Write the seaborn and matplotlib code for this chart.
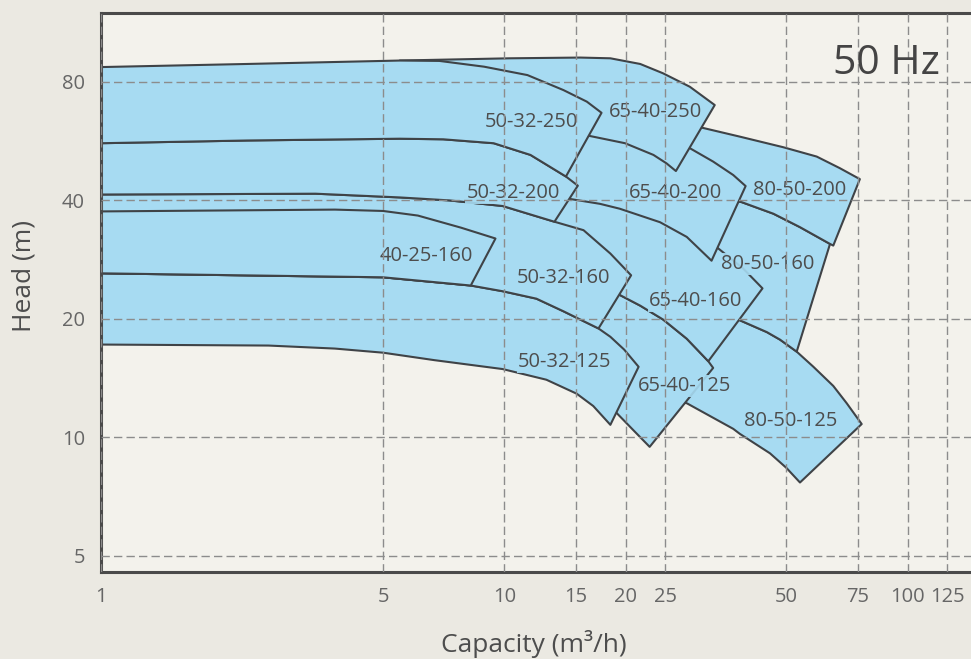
import matplotlib
matplotlib.use('Agg')
import seaborn as sns
import matplotlib.pyplot as plt
from matplotlib.ticker import NullLocator

# pump performance fields, capacity (m3/h) vs head (m)
# each field: top curve and bottom curve, left to right
top_q_50_32_250 = [1, 2.3, 5.5, 6.9, 8.9, 11.4, 14.0, 16.0, 17.4]
top_h_50_32_250 = [87.3, 88.9, 90.7, 90.5, 87.5, 83.3, 76.3, 71.3, 66.8]
bot_q_50_32_250 = [1, 2.3, 5.5, 7.05, 9.4, 11.6, 14.2]
bot_h_50_32_250 = [55.9, 56.8, 57.4, 57.2, 55.9, 52.2, 46.0]

top_q_50_32_200 = [1, 2.3, 5.5, 7.05, 9.4, 11.6, 14.2, 15.2]
top_h_50_32_200 = [55.9, 56.8, 57.4, 57.2, 55.9, 52.2, 46.0, 43.6]
bot_q_50_32_200 = [1, 3.4, 5.5, 7.3, 9.9, 13.3]
bot_h_50_32_200 = [41.4, 41.6, 40.7, 40.0, 38.7, 35.3]

top_q_50_32_160 = [1, 3.4, 5.5, 7.3, 9.9, 13.3, 15.7, 18.3, 20.6]
top_h_50_32_160 = [41.4, 41.6, 40.7, 40.0, 38.7, 35.3, 33.6, 29.3, 25.8]
bot_q_50_32_160 = [1, 3.8, 5.0, 8.25, 9.9, 12.0, 14.0, 17.1]
bot_h_50_32_160 = [26.1, 25.6, 25.5, 24.3, 23.5, 22.5, 20.9, 18.9]

top_q_40_25_160 = [1, 3.8, 5.0, 6.1, 7.8, 9.5]
top_h_40_25_160 = [37.5, 37.9, 37.6, 36.6, 34.1, 32.0]
bot_q_40_25_160 = [1, 3.8, 5.0, 8.25]
bot_h_40_25_160 = [26.1, 25.6, 25.5, 24.3]

top_q_50_32_125 = [1, 3.8, 5.0, 8.25, 9.9, 12.0, 14.0, 17.1, 18.3, 19.8, 21.5]
top_h_50_32_125 = [26.1, 25.6, 25.5, 24.3, 23.5, 22.5, 20.9, 18.9, 18.0, 16.7, 15.1]
bot_q_50_32_125 = [1, 2.6, 3.8, 5.0, 6.7, 9.9, 12.7, 15.1, 16.6, 18.3]
bot_h_50_32_125 = [17.2, 17.1, 16.8, 16.4, 15.7, 14.9, 14.0, 12.9, 12.0, 10.75]

top_q_65_40_250 = [5.5, 10.3, 15.4, 18.3, 21.7, 24.7, 28.8, 33.2]
top_h_65_40_250 = [90.7, 91.9, 92.3, 91.9, 88.9, 84.2, 77.8, 69.9]
bot_q_65_40_250 = [5.5, 10, 14, 16.3, 19.9, 23.4, 25.2, 26.6]
bot_h_65_40_250 = [70, 66, 61, 58.3, 55.9, 52.2, 49.7, 47.5]

top_q_65_40_200 = [8, 14, 20, 25, 28.8, 32.9, 36.9, 39.6]
top_h_65_40_200 = [60, 62, 60, 57, 54.3, 50.2, 46.4, 43.5]
bot_q_65_40_200 = [8, 11, 14.4, 17.25, 19.3, 24.3, 28.3, 32.6]
bot_h_65_40_200 = [45, 43, 40.4, 39.2, 38.1, 35.2, 32.3, 28.1]

top_q_65_40_160 = [10, 16, 20, 25, 30, 33.6, 39.1, 43.6]
top_h_65_40_160 = [41, 42, 40, 37.5, 33.5, 30.4, 26.8, 23.9]
bot_q_65_40_160 = [10, 14, 17, 19.3, 21.7, 24.75, 28.3, 32.0]
bot_h_65_40_160 = [27, 26, 25, 23.0, 21.6, 19.9, 17.8, 15.6]

top_q_65_40_125 = [10, 14, 17, 19.3, 21.7, 24.75, 28.3, 32.0, 32.9]
top_h_65_40_125 = [27, 26, 25, 23.0, 21.6, 19.9, 17.8, 15.6, 15.0]
bot_q_65_40_125 = [10, 13, 16, 19.0, 20.9, 22.9]
bot_h_65_40_125 = [18, 16.5, 14.2, 11.5, 10.4, 9.45]

top_q_80_50_200 = [20, 25, 30.5, 38.3, 49.1, 59.4, 67.8, 76.0]
top_h_80_50_200 = [68, 65, 61.4, 58.1, 54.6, 51.7, 48.3, 45.3]
bot_q_80_50_200 = [20, 30, 38.7, 46.4, 54.0, 64.1, 65.3]
bot_h_80_50_200 = [45, 42, 39.6, 37.0, 34.2, 31.0, 30.7]

top_q_80_50_160 = [20, 30, 38.7, 46.4, 54.0, 64.1]
top_h_80_50_160 = [45, 42, 39.6, 37.0, 34.2, 31.0]
bot_q_80_50_160 = [20, 28, 38.0, 44.7, 48.2, 53.0]
bot_h_80_50_160 = [21, 20.5, 19.9, 18.5, 17.7, 16.5]

top_q_80_50_125 = [20, 28, 38.0, 44.7, 48.2, 53.0, 58.3, 65.3, 70.5, 76.8]
top_h_80_50_125 = [21, 20.5, 19.9, 18.5, 17.7, 16.5, 15.1, 13.5, 12.2, 10.8]
bot_q_80_50_125 = [20, 28.3, 36.9, 38.3, 45.5, 50.0, 54.0]
bot_h_80_50_125 = [13, 12.2, 10.5, 10.2, 9.1, 8.35, 7.67]

# label anchors (centre capacity, baseline head)
label_names = ['50-32-250', '65-40-250', '50-32-200', '65-40-200', '80-50-200',
               '40-25-160', '50-32-160', '80-50-160', '65-40-160',
               '50-32-125', '65-40-125', '80-50-125']
label_q = [11.65, 23.7, 10.5, 26.5, 54.0, 6.4, 14.0, 45.0, 29.8, 14.1, 27.9, 51.2]
label_h = [61.4, 65.0, 40.6, 40.6, 41.2, 28.1, 24.6, 26.8, 21.6, 15.1, 13.1, 10.7]

x_ticks = [1, 5, 10, 15, 20, 25, 50, 75, 100, 125]
y_ticks = [5, 10, 20, 40, 80]

# drawing order: larger pumps first, so smaller ones lie on top
fields = [
    (top_q_80_50_125, top_h_80_50_125, bot_q_80_50_125, bot_h_80_50_125),
    (top_q_80_50_160, top_h_80_50_160, bot_q_80_50_160, bot_h_80_50_160),
    (top_q_80_50_200, top_h_80_50_200, bot_q_80_50_200, bot_h_80_50_200),
    (top_q_65_40_125, top_h_65_40_125, bot_q_65_40_125, bot_h_65_40_125),
    (top_q_65_40_160, top_h_65_40_160, bot_q_65_40_160, bot_h_65_40_160),
    (top_q_65_40_200, top_h_65_40_200, bot_q_65_40_200, bot_h_65_40_200),
    (top_q_65_40_250, top_h_65_40_250, bot_q_65_40_250, bot_h_65_40_250),
    (top_q_50_32_125, top_h_50_32_125, bot_q_50_32_125, bot_h_50_32_125),
    (top_q_50_32_160, top_h_50_32_160, bot_q_50_32_160, bot_h_50_32_160),
    (top_q_50_32_200, top_h_50_32_200, bot_q_50_32_200, bot_h_50_32_200),
    (top_q_50_32_250, top_h_50_32_250, bot_q_50_32_250, bot_h_50_32_250),
    (top_q_40_25_160, top_h_40_25_160, bot_q_40_25_160, bot_h_40_25_160),
]

FILL = '#a7dbf2'
EDGE = '#3f4347'
OUTER_BG = '#ebe9e2'
INNER_BG = '#f3f2ec'

sns.set_theme(style='ticks', rc={'figure.facecolor': OUTER_BG,
                                 'axes.facecolor': INNER_BG})
plt.rcParams['font.family'] = ['Open Sans', 'DejaVu Sans']

W, H = 971, 659
fig = plt.figure(figsize=(W / 100, H / 100), dpi=100)
ax = fig.add_axes([101 / W, 1 - 571.7 / H, 878 / W, 558.4 / H])

for tq, th, bq, bh in fields:
    ax.fill(tq + bq[::-1], th + bh[::-1], facecolor=FILL, edgecolor=EDGE,
            linewidth=1.5, joinstyle='round', zorder=1)

for name, q, h in zip(label_names, label_q, label_h):
    ax.text(q, h, name, ha='center', va='baseline', fontsize=14.5,
            color='#4d4d4d', zorder=2,
            bbox=dict(boxstyle='square,pad=0.05', fc=FILL, ec='none', alpha=0.9))

ax.set_xscale('log')
ax.set_yscale('log')
ax.set_xlim(1, 150)
ax.set_ylim(4.55, 119.6)
ax.set_xticks(x_ticks)
ax.set_xticklabels([str(t) for t in x_ticks])
ax.set_yticks(y_ticks)
ax.set_yticklabels([str(t) for t in y_ticks])
ax.xaxis.set_minor_locator(NullLocator())
ax.yaxis.set_minor_locator(NullLocator())
ax.tick_params(axis='both', length=0, labelsize=14.5, labelcolor='#666666')
ax.tick_params(axis='x', pad=11)
ax.tick_params(axis='y', pad=11.5)

ax.set_axisbelow(False)
ax.grid(True, which='major', color='#8c8c8c', linestyle=(0, (6, 3)), linewidth=1.0)

for side in ['left', 'top', 'bottom']:
    ax.spines[side].set_color('#4a4a4a')
    ax.spines[side].set_linewidth(2.2)
ax.spines['right'].set_visible(False)

fig.text(534 / W, 1 - 652 / H, 'Capacity (m³/h)', ha='center', va='baseline',
         fontsize=19, color='#4d4d4d')
fig.text(30.7 / W, 1 - 276 / H, 'Head (m)', ha='center', va='baseline',
         rotation=90, rotation_mode='anchor', fontsize=19, color='#4d4d4d')
fig.text(940 / W, 1 - 74.3 / H, '50 Hz', ha='right', va='baseline',
         fontsize=29.5, color='#444444')

fig.savefig('out.png', dpi=100, facecolor=fig.get_facecolor())
